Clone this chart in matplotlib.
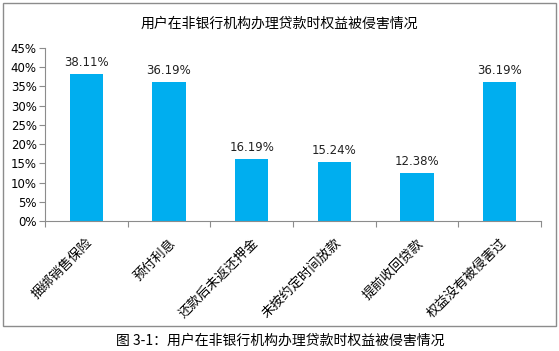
import matplotlib.pyplot as plt
from matplotlib.patches import Rectangle

plt.rcParams['font.family'] = ['Noto Sans CJK SC', 'DejaVu Sans']

categories = ['捆绑销售保险', '预付利息', '还款后未返还押金', '未按约定时间放款', '提前收回贷款', '权益没有被侵害过']
values = [38.11, 36.19, 16.19, 15.24, 12.38, 36.19]
yticks = [0, 5, 10, 15, 20, 25, 30, 35, 40, 45]

title = '用户在非银行机构办理贷款时权益被侵害情况'
caption = '图 3-1：用户在非银行机构办理贷款时权益被侵害情况'

W, H = 559, 351
fig = plt.figure(figsize=(W / 100, H / 100), dpi=100)

# 外框
fig.patches.append(Rectangle((3 / W, 1 - 326 / H), 553 / W, 323 / H,
                             transform=fig.transFigure, fill=False,
                             edgecolor='#8c8c8c', linewidth=1))

ax = fig.add_axes([45 / W, 1 - 221 / H, 496 / W, 173 / H])
x = list(range(len(categories)))
ax.bar(x, values, width=0.4, color='#00AEEF')
for xi, v in zip(x, values):
    ax.text(xi, v + 1.3, f'{v:.2f}%', ha='center', va='bottom', fontsize=8.5,
            family='DejaVu Sans', color='#222222')

ax.set_xlim(-0.5, len(categories) - 0.5)
ax.set_ylim(0, 45)
ax.set_yticks(yticks)
ax.set_yticklabels([f'{t}%' for t in yticks], fontsize=8.5, family='DejaVu Sans')
ax.set_xticks([i - 0.5 for i in range(len(categories) + 1)], minor=False)
ax.set_xticklabels([])
ax.set_xticks(x, minor=True)
ax.set_xticklabels(categories, minor=True, rotation=45, ha='right',
                   rotation_mode='anchor', fontsize=9.5)
ax.tick_params(axis='x', which='minor', length=0, pad=11)
ax.tick_params(axis='x', which='major', length=4, color='#8c8c8c')
ax.tick_params(axis='y', length=4, color='#8c8c8c', pad=2)
for s in ['top', 'right']:
    ax.spines[s].set_visible(False)
for s in ['left', 'bottom']:
    ax.spines[s].set_color('#8c8c8c')

fig.text(279 / W, 1 - 24 / H, title, ha='center', va='center', fontsize=10)
fig.text(280 / W, 1 - 341 / H, caption, ha='center', va='center', fontsize=10)

plt.savefig('out.png', dpi=100)
